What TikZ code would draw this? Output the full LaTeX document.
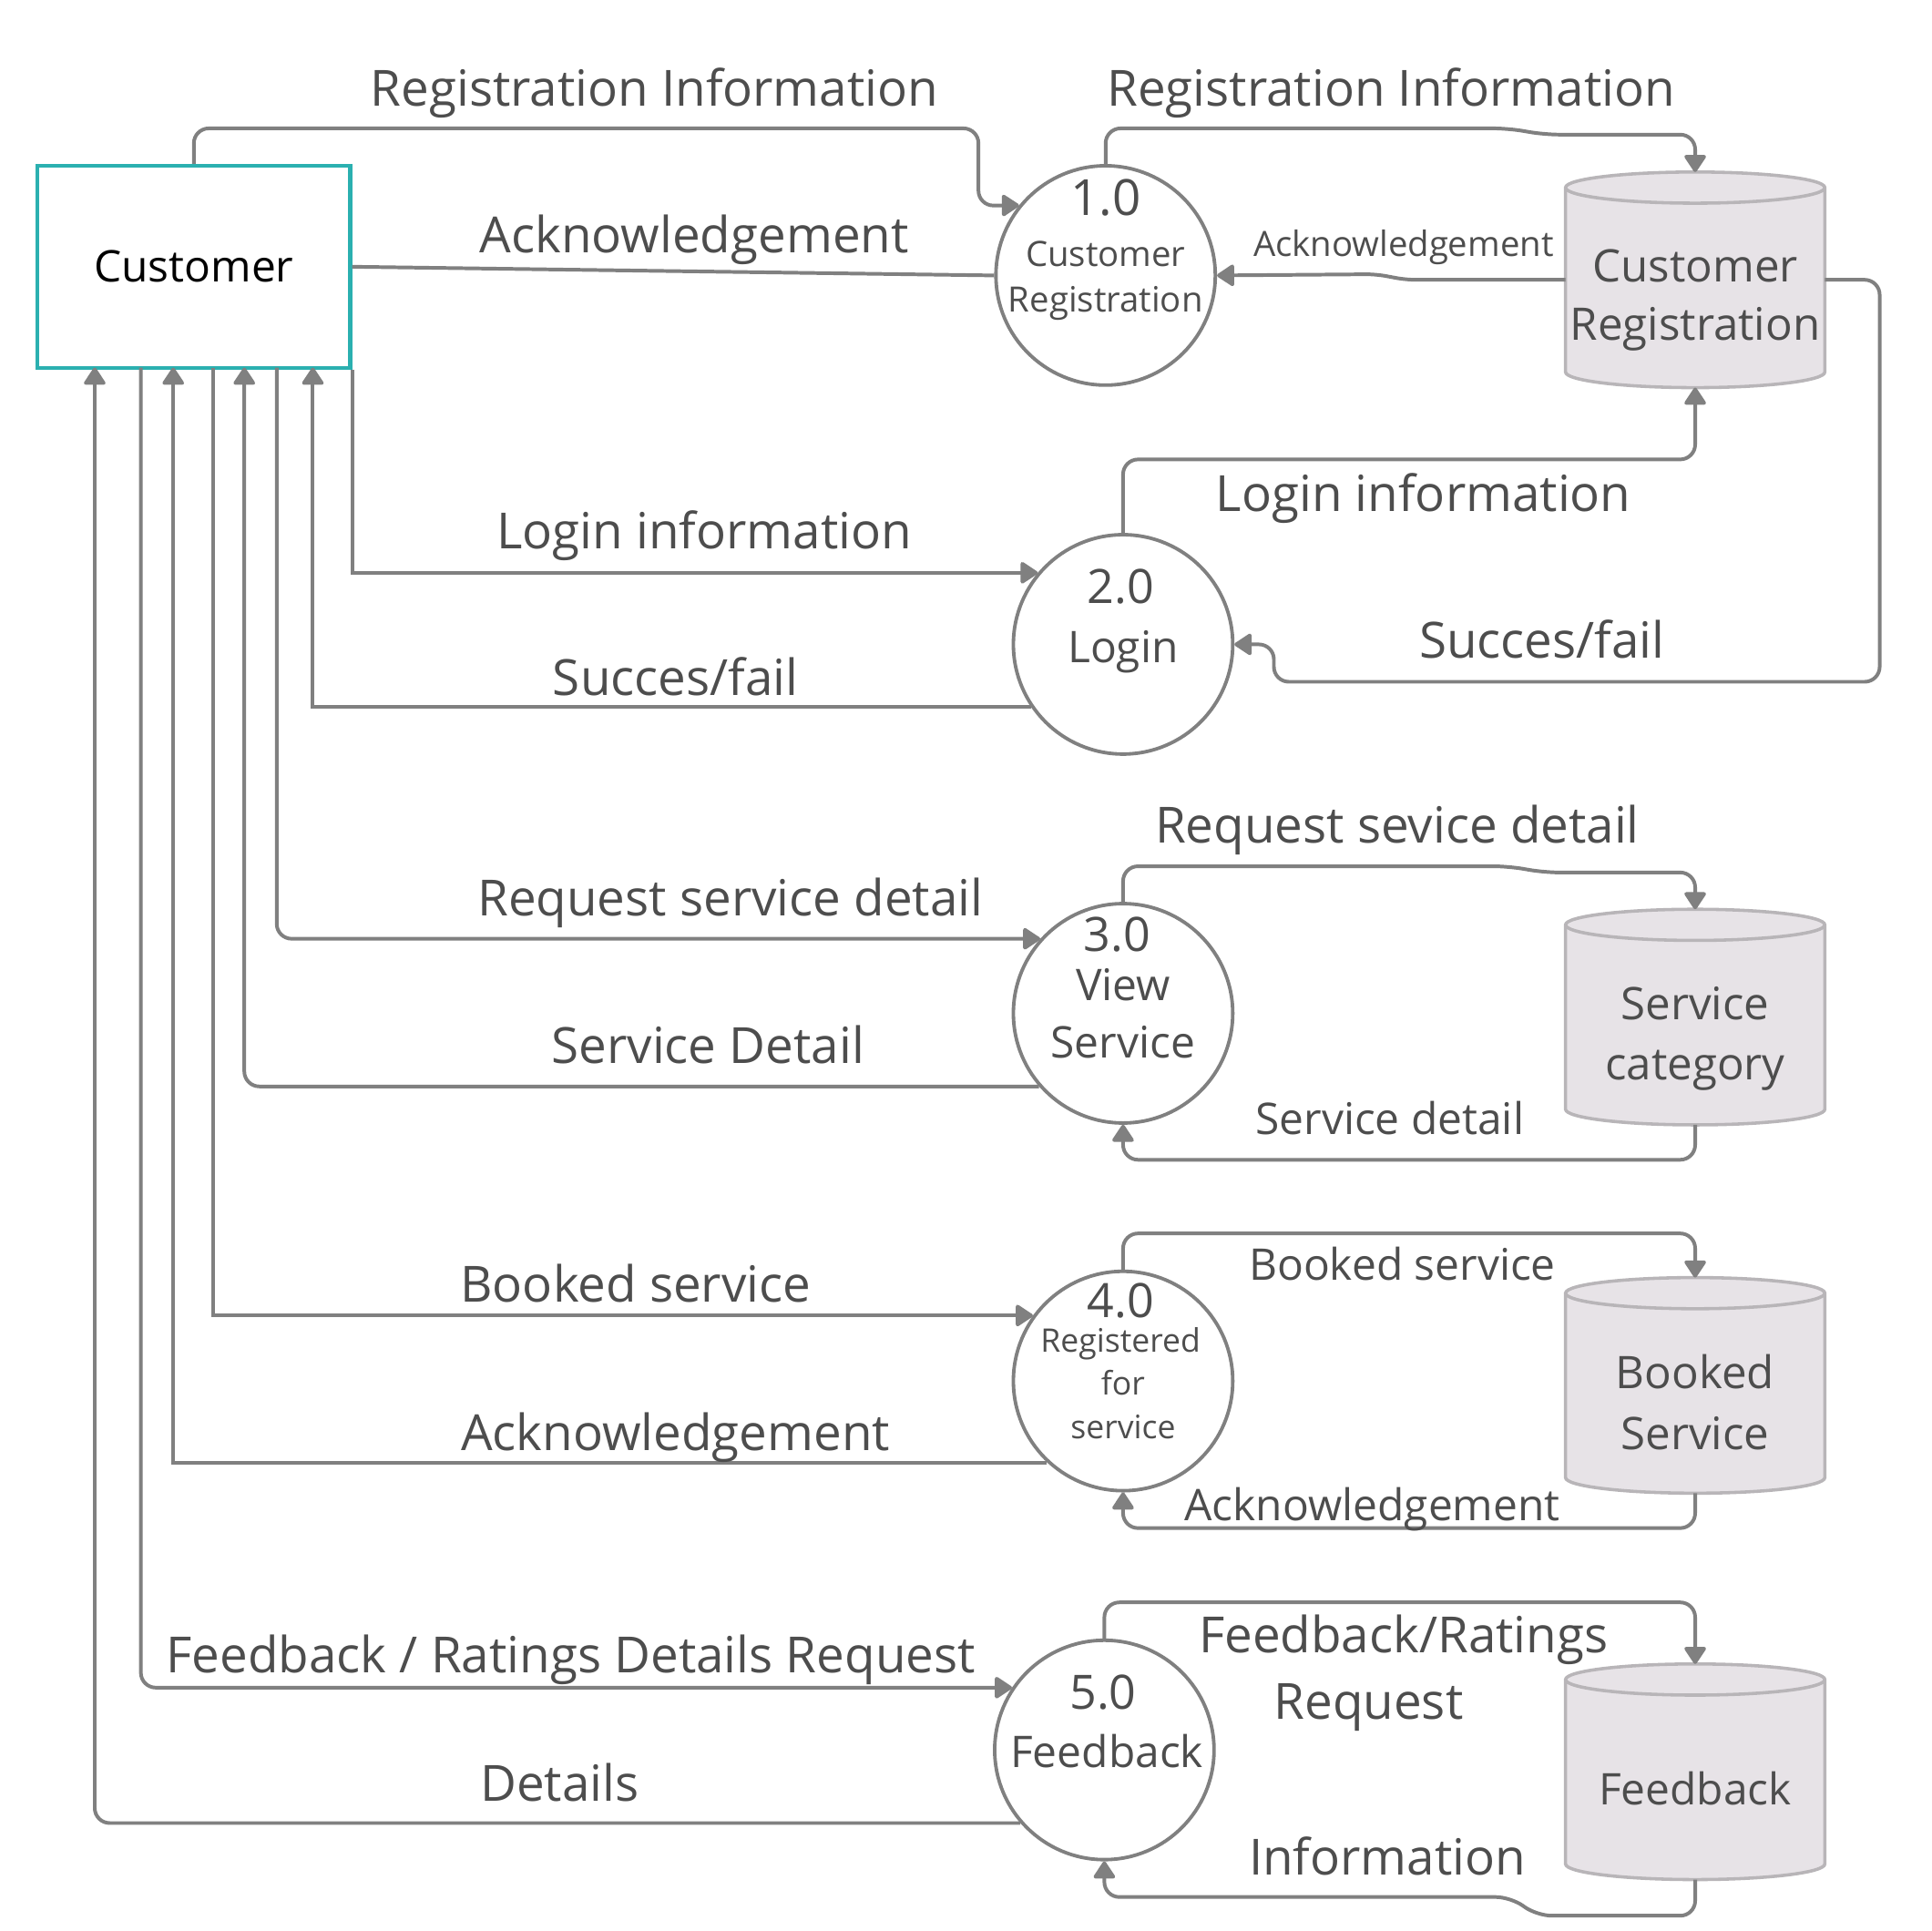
\documentclass[tikz,border=0pt]{standalone}
\usepackage{fontspec}
\setmainfont{Open Sans}
\usetikzlibrary{arrows.meta,positioning,calc}

\definecolor{flowgray}{RGB}{128,128,128}
\definecolor{ink}{RGB}{77,77,77}
\definecolor{extteal}{RGB}{43,176,176}
\definecolor{drumfill}{RGB}{231,227,231}
\definecolor{drumedge}{RGB}{184,181,184}

% data store drawn round a named drum node
\newcommand{\storedrum}[1]{%
  \draw[drumbody] ($(#1.north west)+(0,12.5)$) -- ($(#1.south west)+(0,-12.5)$)
    arc[start angle=180, end angle=360, x radius=104pt, y radius=12.5pt]
    -- ($(#1.north east)+(0,12.5)$)
    arc[start angle=0, end angle=180, x radius=104pt, y radius=12.5pt] -- cycle;
  \draw[drumbody, fill=none] ($(#1.north west)+(0,12.5)$)
    arc[start angle=180, end angle=360, x radius=104pt, y radius=12.5pt];
}

\begin{document}
\begin{tikzpicture}[
    x=1pt, y=-1pt,
    ext/.style={rectangle, draw=extteal, line width=3pt, minimum width=251pt, minimum height=162pt, inner sep=0pt},
    proc/.style={circle, draw=flowgray, line width=2.8pt, minimum size=176pt, inner sep=0pt},
    drum/.style={rectangle, minimum width=208pt, minimum height=173pt, inner sep=0pt, outer sep=0pt},
    drumbody/.style={draw=drumedge, fill=drumfill, line width=2.6pt},
    flow/.style={draw=flowgray, line width=2.9pt, -{Triangle[round, length=15pt, width=19pt]}},
    link/.style={draw=flowgray, line width=2.9pt},
    lab/.style={anchor=base, inner sep=0pt, text=ink, font=\fontsize{40}{48}\selectfont},
    num/.style={lab, font=\fontsize{38}{46}\selectfont},
    mlab/.style={lab, font=\fontsize{35}{42}\selectfont},
    slab/.style={lab, font=\fontsize{28}{34}\selectfont},
    tlab/.style={lab, font=\fontsize{26}{32}\selectfont}
]
\useasboundingbox (0,0) rectangle (1550,1549);

% External entity
\node[ext, font=\fontsize{35}{42}\selectfont] (cust) at (155.5,214) {Customer};

% Processes
\node[proc] (p1) at (887,221) {};
\node[proc] (p2) at (901,517) {};
\node[proc] (p3) at (901,813) {};
\node[proc] (p4) at (901,1108) {};
\node[proc] (p5) at (886,1404) {};

\node[lab] (p1num) at (887,173) {1.0};
\node[slab] (p1a) at (887,214) {Customer};
\node[slab] (p1b) at (887,250) {Registration};
\node[num] (p2num) at (899,484) {2.0};
\node[mlab] (p2a) at (901,532) {Login};
\node[num] (p3num) at (896,763) {3.0};
\node[mlab] (p3a) at (901,803) {View};
\node[mlab] (p3b) at (901,849) {Service};
\node[num] (p4num) at (899,1057) {4.0};
\node[tlab] (p4a) at (899,1085) {Registered};
\node[tlab] (p4b) at (901,1119) {for};
\node[tlab] (p4c) at (901,1154) {service};
\node[num] (p5num) at (885,1371) {5.0};
\node[mlab] (p5a) at (888,1418) {Feedback};

% Data stores
\node[drum] (s1) at (1360,224.5) {};
\node[drum] (s2) at (1360,816) {};
\node[drum] (s3) at (1360,1111.5) {};
\node[drum] (s4) at (1360,1421.5) {};
\storedrum{s1}
\storedrum{s2}
\storedrum{s3}
\storedrum{s4}

\node[lab, font=\fontsize{36}{44}\selectfont] (s1a) at (1360,226) {Customer};
\node[lab, font=\fontsize{36}{44}\selectfont] (s1b) at (1360,273) {Registration};
\node[lab, font=\fontsize{36}{44}\selectfont] (s2a) at (1360,818) {Service};
\node[lab, font=\fontsize{36}{44}\selectfont] (s2b) at (1360,866) {category};
\node[lab, font=\fontsize{36}{44}\selectfont] (s3a) at (1360,1114) {Booked};
\node[lab, font=\fontsize{36}{44}\selectfont] (s3b) at (1360,1163) {Service};
\node[mlab] (s4a) at (1360,1448) {Feedback};

% Ports on the customer's lower edge
\coordinate (cp1) at (76,295);
\coordinate (cp2) at (113,295);
\coordinate (cp3) at (139,295);
\coordinate (cp4) at (171,295);
\coordinate (cp5) at (196,295);
\coordinate (cp6) at (222,295);
\coordinate (cp7) at (251,295);

% Flows between customer and processes
\draw[flow, rounded corners=12pt] (cust.north) -- (155.5,103) -- (785,103) -- (785,165) -- (p1.141);
\draw[link] (p1.west) -- (cust.east);
\draw[flow] (cust.south east) |- (p2.140);
\draw[flow] (p2.214) -| (cp7);
\draw[flow, rounded corners=12pt] (cp6) |- (p3.138);
\draw[flow, rounded corners=12pt] (p3.221) -| (cp5);
\draw[flow] (cp4) |- (p4.144);
\draw[flow] (p4.227) -| (cp3);
\draw[flow, rounded corners=12pt] (cp2) |- (p5.146);
\draw[flow, rounded corners=12pt] (p5.221) -| (cp1);

% Flows between processes and stores
\draw[flow, rounded corners=12pt] (p1.north) -- (887,103) -- (1210,103) -- (1239,108) -- (1360,108) -- (s1.north);
\draw[flow, rounded corners=8pt] (s1.west) -- (1128,224.5) -- (1104,220) -- (p1.east);
\draw[flow, rounded corners=12pt] (s1.east) -- (1508,224.5) -- (1508,547) -- (1022,547) -- (1022,517) -- (p2.east);
\draw[flow, rounded corners=12pt] (p2.north) -- ++(0,-59) -| (s1.south);
\draw[flow, rounded corners=12pt] (p3.north) -- (901,695) -- (1210,695) -- (1239,700) -- (1360,700) -- (s2.north);
\draw[flow, rounded corners=12pt] (s2.south) -- ++(0,28) -| (p3.south);
\draw[flow, rounded corners=12pt] (p4.north) -- ++(0,-29) -| (s3.north);
\draw[flow, rounded corners=12pt] (s3.south) -- ++(0,28) -| (p4.south);
\draw[flow, rounded corners=12pt] (p5.north) -- ++(0,-29) -| (s4.north);
\draw[flow, rounded corners=12pt] (s4.south) -- (1360,1537) -- (1233,1537) -- (1212,1522) -- (886,1522) -- (p5.south);

% Flow labels, left
\node[lab] (l1) at (525,85) {Registration Information};
\node[lab] (l2) at (557,203) {Acknowledgement};
\node[lab] (l3) at (565,440) {Login information};
\node[lab] (l4) at (542,558) {Succes/fail};
\node[lab] (l5) at (586,735) {Request service detail};
\node[lab] (l6) at (568,853) {Service Detail};
\node[lab] (l7) at (510,1045) {Booked service};
\node[lab] (l8) at (542,1164) {Acknowledgement};
\node[lab] (l9) at (458,1342) {Feedback / Ratings Details Request};
\node[lab] (l10) at (449,1445) {Details};

% Flow labels, right
\node[lab] (r1) at (1116,85) {Registration Information};
\node[slab] (r2) at (1126,206) {Acknowledgement};
\node[lab] (r3) at (1142,410) {Login information};
\node[lab] (r4) at (1237,528) {Succes/fail};
\node[lab] (r5) at (1121,676) {Request sevice detail};
\node[mlab] (r6) at (1115,910) {Service detail};
\node[mlab] (r7) at (1125,1027) {Booked service};
\node[mlab] (r8) at (1101,1220) {Acknowledgement};
\node[lab] (r9a) at (1126,1326) {Feedback/Ratings};
\node[lab] (r9b) at (1098,1379) {Request};
\node[lab] (r10) at (1113,1504) {Information};

\end{tikzpicture}
\end{document}
